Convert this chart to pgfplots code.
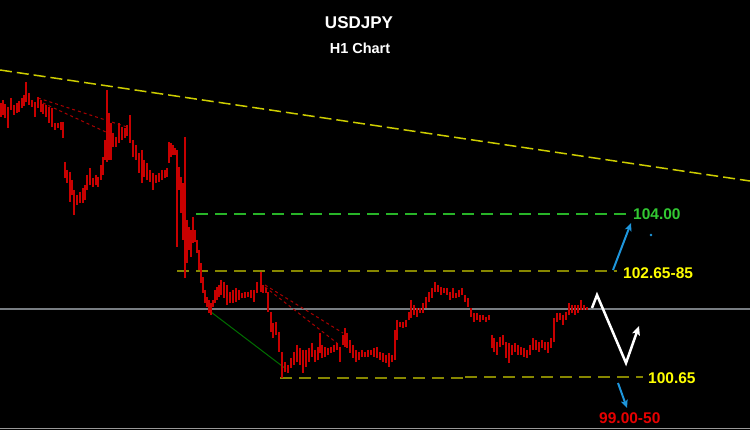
\documentclass[border=0pt]{standalone}
\usepackage{pgfplots}
\pgfplotsset{compat=1.18}
\usepackage{pgfplotstable}
\usepackage{fontspec}
\setmainfont{Liberation Sans}
\usetikzlibrary{arrows.meta}
\definecolor{candle}{RGB}{200,0,0}
\definecolor{olive}{RGB}{135,135,0}
\definecolor{trend}{RGB}{205,205,0}
\definecolor{lvlgreen}{RGB}{40,180,40}
\definecolor{dkgreen}{RGB}{0,110,0}
\definecolor{dotred}{RGB}{170,0,0}
\definecolor{arrowblue}{RGB}{30,150,220}
\definecolor{midgray}{RGB}{120,125,130}
\definecolor{lblgreen}{RGB}{50,200,50}
\definecolor{lblyellow}{RGB}{255,255,0}
\definecolor{lblred}{RGB}{230,0,0}
% candles: x position, top (high) and bottom (low) in screen units
\pgfplotstableread{
x t b
1 103 117
3 100 115
5 104 118
8 107 128
11 98 110
14 105 115
17 103 113
19 101 112
22 98 108
24 95 106
26 82 102
29 93 105
32 100 107
35 102 117
38 97 108
41 100 112
43 104 114
46 105 117
49 107 123
52 108 127
55 123 130
58 123 128
61 122 130
63 122 138
65 162 178
67 170 183
70 172 202
72 180 195
74 190 215
77 195 205
80 192 203
83 188 203
85 185 200
87 175 190
90 168 185
93 178 187
96 175 185
98 177 187
101 165 180
103 157 175
105 140 160
107 90 162
109 113 160
111 123 160
113 133 147
116 137 147
119 123 143
122 127 140
125 128 138
127 125 136
130 115 143
133 140 157
136 145 160
139 153 173
142 150 183
144 160 177
147 163 180
150 170 182
153 173 190
156 175 183
159 173 182
162 170 180
165 170 178
167 168 177
169 142 163
171 143 157
173 145 155
175 148 155
177 150 247
179 167 190
181 177 213
183 183 240
185 137 278
187 220 263
189 227 250
191 230 257
193 217 243
195 230 242
197 240 253
199 250 270
201 263 283
203 277 293
205 290 303
207 297 307
209 300 313
211 303 315
213 300 307
215 290 303
217 287 300
219 285 297
221 280 295
224 282 298
227 285 305
230 292 303
233 290 303
236 288 302
239 290 300
242 293 298
245 292 298
248 292 297
251 290 298
254 290 302
257 282 293
261 272 292
263 285 293
266 288 293
268 292 312
271 312 332
273 323 338
276 322 335
279 332 352
282 352 378
285 362 372
288 365 373
291 358 368
294 352 365
297 345 362
300 348 365
303 350 373
306 350 367
309 348 362
312 343 357
315 350 362
318 347 360
320 333 353
322 345 358
325 347 357
328 348 355
331 347 353
334 345 352
337 343 350
340 347 362
343 335 345
345 328 347
347 333 348
350 340 353
353 345 358
356 350 362
359 352 360
362 350 357
365 352 357
368 350 357
371 350 355
374 348 357
377 347 358
380 352 360
383 353 362
386 355 363
389 353 367
392 355 362
395 330 360
397 320 340
400 322 327
403 322 328
406 320 327
409 312 320
411 300 318
414 305 315
417 308 317
420 308 313
423 303 313
426 297 308
429 292 302
432 288 298
435 282 292
438 285 292
441 287 295
444 288 293
447 288 295
450 292 300
453 288 298
456 293 298
459 290 297
462 288 295
465 295 302
468 298 307
471 308 317
474 313 322
477 313 320
480 315 322
483 315 320
486 317 322
489 315 320
492 335 348
494 338 352
497 342 355
500 337 347
503 335 345
506 342 358
509 343 363
512 345 355
515 343 352
518 345 355
521 347 355
524 348 357
527 350 358
530 345 355
533 338 350
536 340 350
539 342 352
542 340 348
545 342 350
548 342 353
551 338 348
554 318 342
557 313 322
560 313 320
563 315 325
566 312 320
569 303 315
572 305 313
575 305 315
578 305 313
581 300 310
584 305 310
587 307 310
}\candles
\begin{document}
\begin{tikzpicture}
\fill[black] (0,0) rectangle (750pt,430pt);
\begin{axis}[
  at={(0,0)}, anchor=south west,
  scale only axis, width=750pt, height=430pt,
  xmin=0, xmax=750, ymin=0, ymax=430, y dir=reverse,
  hide axis, clip=true,
]
% reference lines
\addplot[midgray, line width=1.2pt] coordinates {(0,309) (750,309)};
\addplot[gray!80, line width=1pt] coordinates {(0,428) (750,428)};
\addplot[trend, line width=1.5pt, dash pattern=on 12pt off 5pt] coordinates {(0,70) (750,181)};
\addplot[lvlgreen, line width=1.2pt, dash pattern=on 12pt off 7pt] coordinates {(196,214) (631,214)};
\addplot[olive, line width=2pt, dash pattern=on 12pt off 7pt] coordinates {(177,271) (617,271)};
\addplot[olive, line width=2pt, dash pattern=on 12pt off 7pt] coordinates {(280,378) (470,378)};
\addplot[olive, line width=2pt, dash pattern=on 12pt off 7pt] coordinates {(465,377) (643,377)};
\addplot[dotred, line width=1pt, dash pattern=on 3pt off 3pt] coordinates {(38,98) (127,127)};
\addplot[dotred, line width=1pt, dash pattern=on 3pt off 3pt] coordinates {(43,103) (108,133)};
\addplot[dotred, line width=1pt, dash pattern=on 3pt off 3pt] coordinates {(265,285) (343,333)};
\addplot[dotred, line width=1pt, dash pattern=on 3pt off 3pt] coordinates {(265,287) (337,343)};
\addplot[dkgreen, line width=1pt] coordinates {(211,312) (286,369)};
% candles
\addplot[draw=none, mark=none, forget plot,
  error bars/.cd, y dir=plus, y explicit, error mark=none,
  error bar style={draw=candle, line width=2.2pt}]
  table[x=x, y=t, y error expr=\thisrow{b}-\thisrow{t}] {\candles};
% projection arrows
\addplot[white, line width=2.5pt, line join=miter, -{Stealth[length=9pt,width=8pt,inset=2pt]}]
  coordinates {(592,308) (597,295) (626,363) (639,326)};
\addplot[arrowblue, line width=2pt, -{Stealth[length=8pt,width=7pt,inset=2pt]}]
  coordinates {(613,270) (631,223)};
\addplot[arrowblue, line width=2pt, -{Stealth[length=8pt,width=7pt,inset=2pt]}]
  coordinates {(618,383) (627,408)};
\addplot[arrowblue, only marks, mark=*, mark size=1.2pt] coordinates {(651,235)};
% labels
\node[anchor=west, text=lblgreen, font=\fontsize{15.5}{15}\selectfont\bfseries, inner sep=0pt] at (axis cs:633,214) {104.00};
\node[anchor=west, text=lblyellow, font=\fontsize{15.5}{15}\selectfont\bfseries, inner sep=0pt] at (axis cs:623,273) {102.65-85};
\node[anchor=west, text=lblyellow, font=\fontsize{15.5}{15}\selectfont\bfseries, inner sep=0pt] at (axis cs:648,378) {100.65};
\node[anchor=west, text=lblred, font=\fontsize{15.5}{15}\selectfont\bfseries, inner sep=0pt] at (axis cs:599,418) {99.00-50};
\node[text=white, font=\fontsize{17}{17}\selectfont\bfseries, inner sep=0pt] at (axis cs:359,23) {USDJPY};
\node[text=white, font=\fontsize{14.5}{14.5}\selectfont\bfseries, inner sep=0pt] at (axis cs:360,48) {H1 Chart};
\end{axis}
\end{tikzpicture}
\end{document}
